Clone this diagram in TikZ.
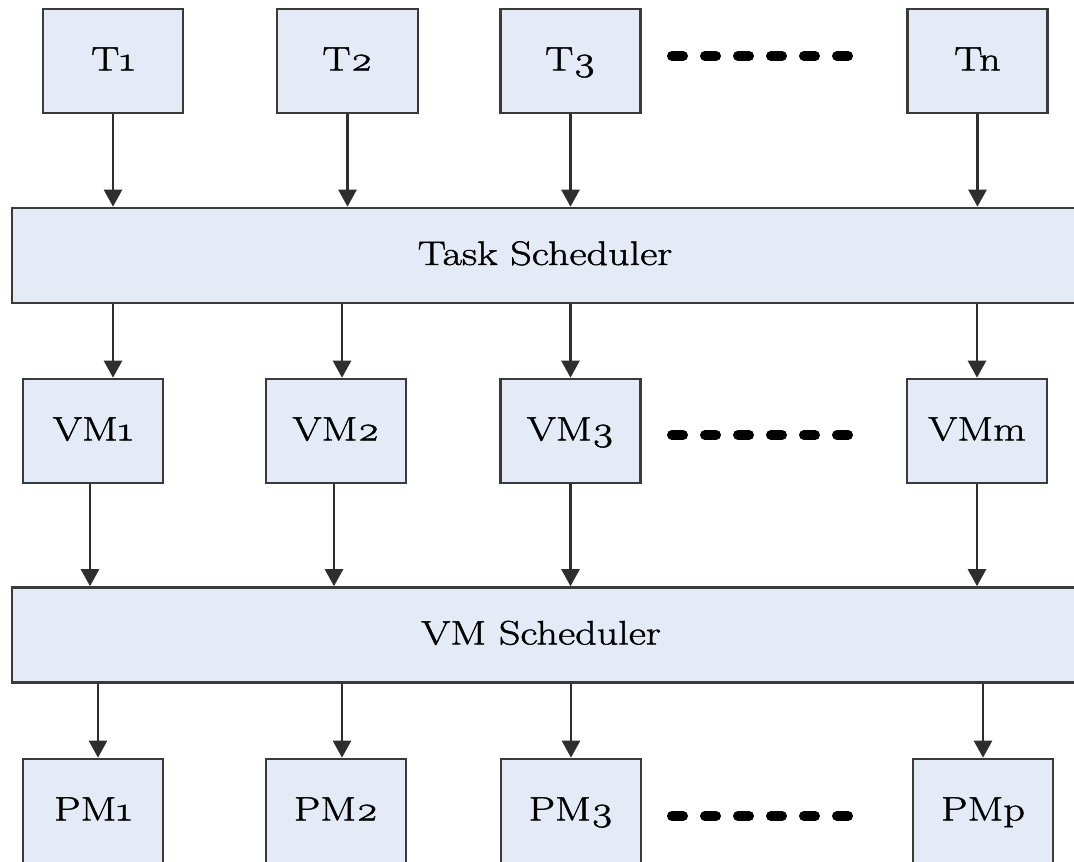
\documentclass[tikz,border=0pt]{standalone}
\usepackage{fontspec}
\setmainfont{Latin Modern Roman}[FakeStretch=1.24, FakeBold=1.3, Numbers=OldStyle]
\usetikzlibrary{arrows.meta}
\definecolor{boxfill}{HTML}{E4EBF6}
\definecolor{boxline}{HTML}{3A3A3A}
\definecolor{linkline}{HTML}{2E2E2E}
\tikzset{
  unit/.style={draw=boxline, fill=boxfill, line width=2.6pt,
    minimum width=140pt, minimum height=104pt, inner sep=0pt,
    text height=25pt, text depth=6pt,
    font=\fontsize{34}{40}\selectfont},
  sched/.style={unit, minimum width=1066pt, minimum height=95pt},
  link/.style={draw=linkline, line width=2.5pt,
    -{Triangle[width=18pt,length=17pt]}},
  etc/.style={line width=10pt, line cap=round, dash pattern=on 11pt off 22pt}
}
\begin{document}
\begin{tikzpicture}[x=1pt, y=-1pt]
  \useasboundingbox (0,0) rectangle (1074,862);
  \clip (0,0) rectangle (1074,862);

  % tasks
  \node[unit] (T1) at (113,61) {T1};
  \node[unit, minimum width=141pt] (T2) at (347.5,61) {T2};
  \node[unit] (T3) at (570.5,61) {T3};
  \node[unit] (Tn) at (977.5,61) {Tn};

  % task scheduler
  \node[sched] (TS) at (545,255.5) {Task Scheduler};

  % virtual machines
  \node[unit] (VM1) at (93,431) {VM1};
  \node[unit] (VM2) at (336,431) {VM2};
  \node[unit] (VM3) at (570.5,431) {VM3};
  \node[unit] (VMm) at (977,431) {VMm};

  % VM scheduler
  \node[sched] (VS) at (545,635) {\hspace*{-8pt}VM Scheduler};

  % physical machines
  \node[unit, minimum height=112pt] (PM1) at (93,815) {\raisebox{4pt}{PM1}};
  \node[unit, minimum height=112pt] (PM2) at (336,815) {\raisebox{4pt}{PM2}};
  \node[unit, minimum height=112pt] (PM3) at (571,815) {\raisebox{4pt}{PM3}};
  \node[unit, minimum height=112pt] (PMp) at (983,815) {\raisebox{4pt}{PMp}};

  % tasks -> task scheduler
  \foreach \t in {T1,T2,T3,Tn}
    \draw[link] (\t.south) -- (\t.south |- TS.north);

  % task scheduler -> virtual machines
  \draw[link] ([xshift=20pt]VM1.north |- TS.south) -- ([xshift=20pt]VM1.north);
  \draw[link] ([xshift=6pt]VM2.north |- TS.south) -- ([xshift=6pt]VM2.north);
  \draw[link] (VM3.north |- TS.south) -- (VM3.north);
  \draw[link] (VMm.north |- TS.south) -- (VMm.north);

  % virtual machines -> VM scheduler
  \draw[link] ([xshift=-3pt]VM1.south) -- ([xshift=-3pt]VM1.south |- VS.north);
  \draw[link] ([xshift=-2pt]VM2.south) -- ([xshift=-2pt]VM2.south |- VS.north);
  \draw[link] (VM3.south) -- (VM3.south |- VS.north);
  \draw[link] (VMm.south) -- (VMm.south |- VS.north);

  % VM scheduler -> physical machines
  \draw[link] ([xshift=5pt]PM1.north |- VS.south) -- ([xshift=5pt]PM1.north);
  \draw[link] ([xshift=6pt]PM2.north |- VS.south) -- ([xshift=6pt]PM2.north);
  \draw[link] (PM3.north |- VS.south) -- (PM3.north);
  \draw[link] (PMp.north |- VS.south) -- (PMp.north);

  % ellipses between the third and last item of each row
  \draw[etc] (672,56) -- (848,56);
  \draw[etc] (672,435) -- (848,435);
  \draw[etc] (672,816) -- (848,816);
\end{tikzpicture}
\end{document}
